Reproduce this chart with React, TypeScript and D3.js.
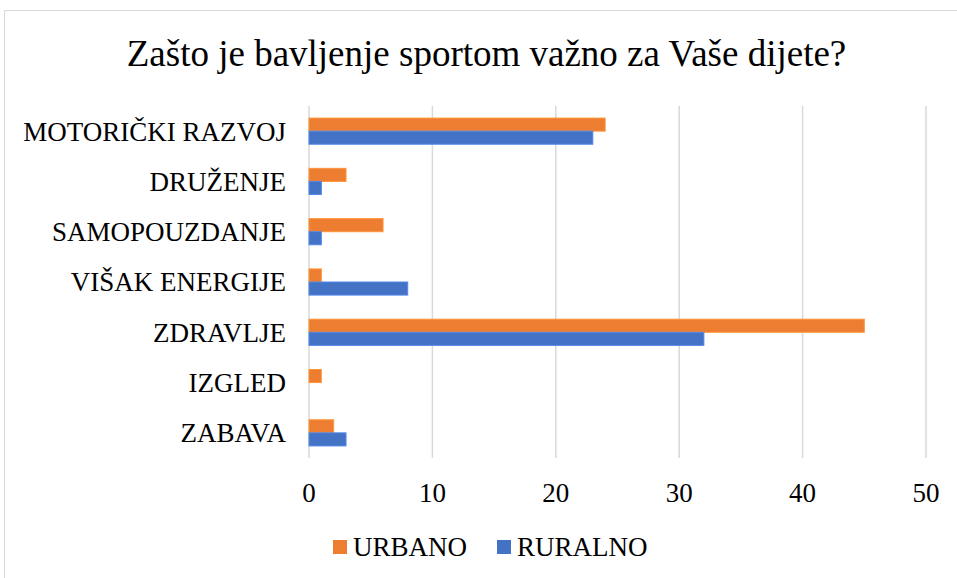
import React from "react";
import * as d3 from "d3";

const categories = [
  "MOTORIČKI RAZVOJ",
  "DRUŽENJE",
  "SAMOPOUZDANJE",
  "VIŠAK ENERGIJE",
  "ZDRAVLJE",
  "IZGLED",
  "ZABAVA",
];
const urbano = [24, 3, 6, 1, 45, 1, 2];
const ruralno = [23, 1, 1, 8, 32, 0, 3];
const xTicks = [0, 10, 20, 30, 40, 50];
const seriesNames = ["URBANO", "RURALNO"];
const seriesColors = ["#ED7D31", "#4472C4"];
const title = "Zašto je bavljenje sportom važno za Vaše dijete?";

const W = 957;
const H = 578;
const FF = '"Liberation Serif", Tinos, serif';

export default function App() {
  const x = d3.scaleLinear().domain([0, 50]).range([309, 926]);
  const y = d3
    .scaleBand<string>()
    .domain(categories)
    .range([106, 458])
    .paddingInner(0.48)
    .paddingOuter(0.24);
  const sub = d3
    .scaleBand<string>()
    .domain(seriesNames)
    .range([0, y.bandwidth()]);
  const series = [urbano, ruralno];

  return (
    <svg
      width={W}
      height={H}
      style={{ position: "absolute", left: 0, top: 0, background: "#fff" }}
    >
      <rect x={0} y={0} width={W} height={H} fill="#fff" />
      <rect
        x={4.5}
        y={10.5}
        width={W + 20}
        height={H + 20}
        fill="none"
        stroke="#d9d9d9"
        strokeWidth={1}
      />
      <text
        x={486.5}
        y={66}
        textAnchor="middle"
        fontSize={37}
        fill="#000"
        style={{ fontFamily: FF }}
      >
        {title}
      </text>
      {xTicks.map((t) => (
        <line
          key={"g" + t}
          x1={x(t)}
          x2={x(t)}
          y1={106}
          y2={458}
          stroke="#d9d9d9"
          strokeWidth={1.5}
        />
      ))}
      {categories.map((c, i) =>
        series.map((s, si) => (
          <rect
            key={c + si}
            x={x(0)}
            y={(y(c) as number) + (sub(seriesNames[si]) as number)}
            width={Math.max(0, x(s[i]) - x(0))}
            height={sub.bandwidth()}
            fill={seriesColors[si]}
            stroke={d3.color(seriesColors[si])!.brighter(0.5).toString()}
            strokeWidth={1}
          />
        ))
      )}
      {categories.map((c) => (
        <text
          key={"l" + c}
          x={286}
          y={(y(c) as number) + y.bandwidth() / 2}
          dy="0.35em"
          textAnchor="end"
          fontSize={27}
          fill="#000"
          style={{ fontFamily: FF }}
        >
          {c}
        </text>
      ))}
      {xTicks.map((t) => (
        <text
          key={"t" + t}
          x={x(t)}
          y={493}
          dy="0.35em"
          textAnchor="middle"
          fontSize={27}
          fill="#000"
          style={{ fontFamily: FF }}
        >
          {t}
        </text>
      ))}
      {seriesNames.map((n, i) => {
        const lx = [333, 497][i];
        return (
          <g key={n}>
            <rect x={lx} y={540} width={14} height={14} fill={seriesColors[i]} />
            <text
              x={lx + 20}
              y={547}
              dy="0.35em"
              fontSize={27}
              fill="#000"
              style={{ fontFamily: FF }}
            >
              {n}
            </text>
          </g>
        );
      })}
    </svg>
  );
}
